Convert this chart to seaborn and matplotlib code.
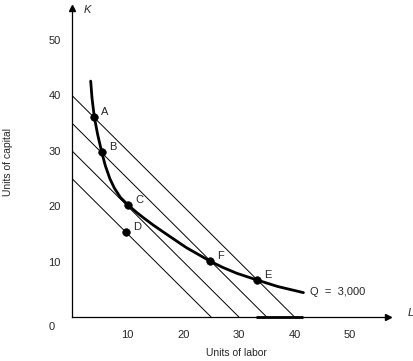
import matplotlib
matplotlib.use("Agg")
import matplotlib.pyplot as plt
import pandas as pd
import seaborn as sns

# isocost intercepts (same on both axes)
isocost_levels = [40, 35, 30, 25]

# isoquant Q = 3,000
curve_labor = [3.36, 3.6, 4.0, 4.6, 5.34, 6.0, 6.8, 7.6, 8.7, 10.1, 11.6,
               13.0, 14.6, 17.5, 20.6, 24.8, 27.0, 29.6, 33.2, 37.0, 41.6]
curve_capital = [42.6, 39.5, 36.2, 33.0, 29.8, 27.3, 25.0, 23.3, 21.6, 20.2, 18.9,
                 17.8, 16.6, 14.6, 12.5, 10.1, 9.0, 7.9, 6.7, 5.5, 4.4]

point_names = ["A", "B", "C", "D", "F", "E"]
point_labor = [4.0, 5.34, 10.1, 9.7, 24.8, 33.2]
point_capital = [36.2, 29.8, 20.2, 15.3, 10.1, 6.7]

tick_values = [10, 20, 30, 40, 50]

sns.set_style("white")
plt.rcParams["font.family"] = ["Liberation Sans", "DejaVu Sans"]

fig = plt.figure(figsize=(4.14, 3.61), dpi=100)
ax = fig.add_axes([72 / 414, 44 / 361, 316 / 414, 309 / 361])

lines = pd.DataFrame(
    [{"level": c, "L": 0, "K": c} for c in isocost_levels]
    + [{"level": c, "L": c, "K": 0} for c in isocost_levels]
)
for c in isocost_levels:
    sns.lineplot(data=lines[lines.level == c], x="L", y="K", color="black",
                 linewidth=0.7, ax=ax, sort=False)

curve = pd.DataFrame({"L": curve_labor, "K": curve_capital})
sns.lineplot(data=curve, x="L", y="K", color="black", linewidth=2.0,
             ax=ax, sort=False, solid_joinstyle="round")

# heavy stroke lying on the labour axis under the curve's tail
ax.plot([33.0, 41.5], [0, 0], color="black", linewidth=2.0, clip_on=False,
        solid_capstyle="butt")

pts = pd.DataFrame({"name": point_names, "L": point_labor, "K": point_capital})
sns.scatterplot(data=pts, x="L", y="K", color="black", s=30, edgecolor="black",
                ax=ax, zorder=5)
for _, row in pts.iterrows():
    ax.annotate(row["name"], (row["L"], row["K"]), xytext=(5, 3.5),
                textcoords="offset points", ha="left", va="center", fontsize=8)

ax.text(42.8, 4.5, "Q  =  3,000", ha="left", va="center", fontsize=8)

ax.set_xlim(0, 56.8)
ax.set_ylim(0, 55.8)
ax.set_xticks(tick_values)
ax.set_yticks(tick_values)
ax.set_xticklabels([str(v) for v in tick_values], fontsize=8)
ax.set_yticklabels([str(v) for v in tick_values], fontsize=8)
ax.tick_params(axis="x", direction="in", length=4, width=0.8, pad=9, color="black")
ax.tick_params(axis="y", direction="in", length=4, width=0.8, pad=8, color="black")
ax.set_xlabel("")
ax.set_ylabel("")

for side in ["top", "right"]:
    ax.spines[side].set_visible(False)
for side in ["left", "bottom"]:
    ax.spines[side].set_color("black")
    ax.spines[side].set_linewidth(0.9)

# arrow heads
ax.plot(1, 0, ">k", markersize=4, transform=ax.get_yaxis_transform(), clip_on=False)
ax.plot(0, 1, "^k", markersize=4, transform=ax.get_xaxis_transform(), clip_on=False)

fig.text(84 / 414, 1 - 10 / 361, "K", fontsize=8, style="italic", ha="left", va="center")
fig.text(408 / 414, 1 - 313 / 361, "L", fontsize=8, style="italic", ha="left", va="center")
fig.text(52 / 414, 1 - 327 / 361, "0", fontsize=8, ha="center", va="center")
fig.text(236 / 414, 1 - 353 / 361, "Units of labor", fontsize=7.5, ha="center", va="center")
fig.text(8 / 414, 1 - 162 / 361, "Units of capital", fontsize=7.5, rotation=90,
         ha="center", va="center")

fig.savefig("out.png", dpi=100)
